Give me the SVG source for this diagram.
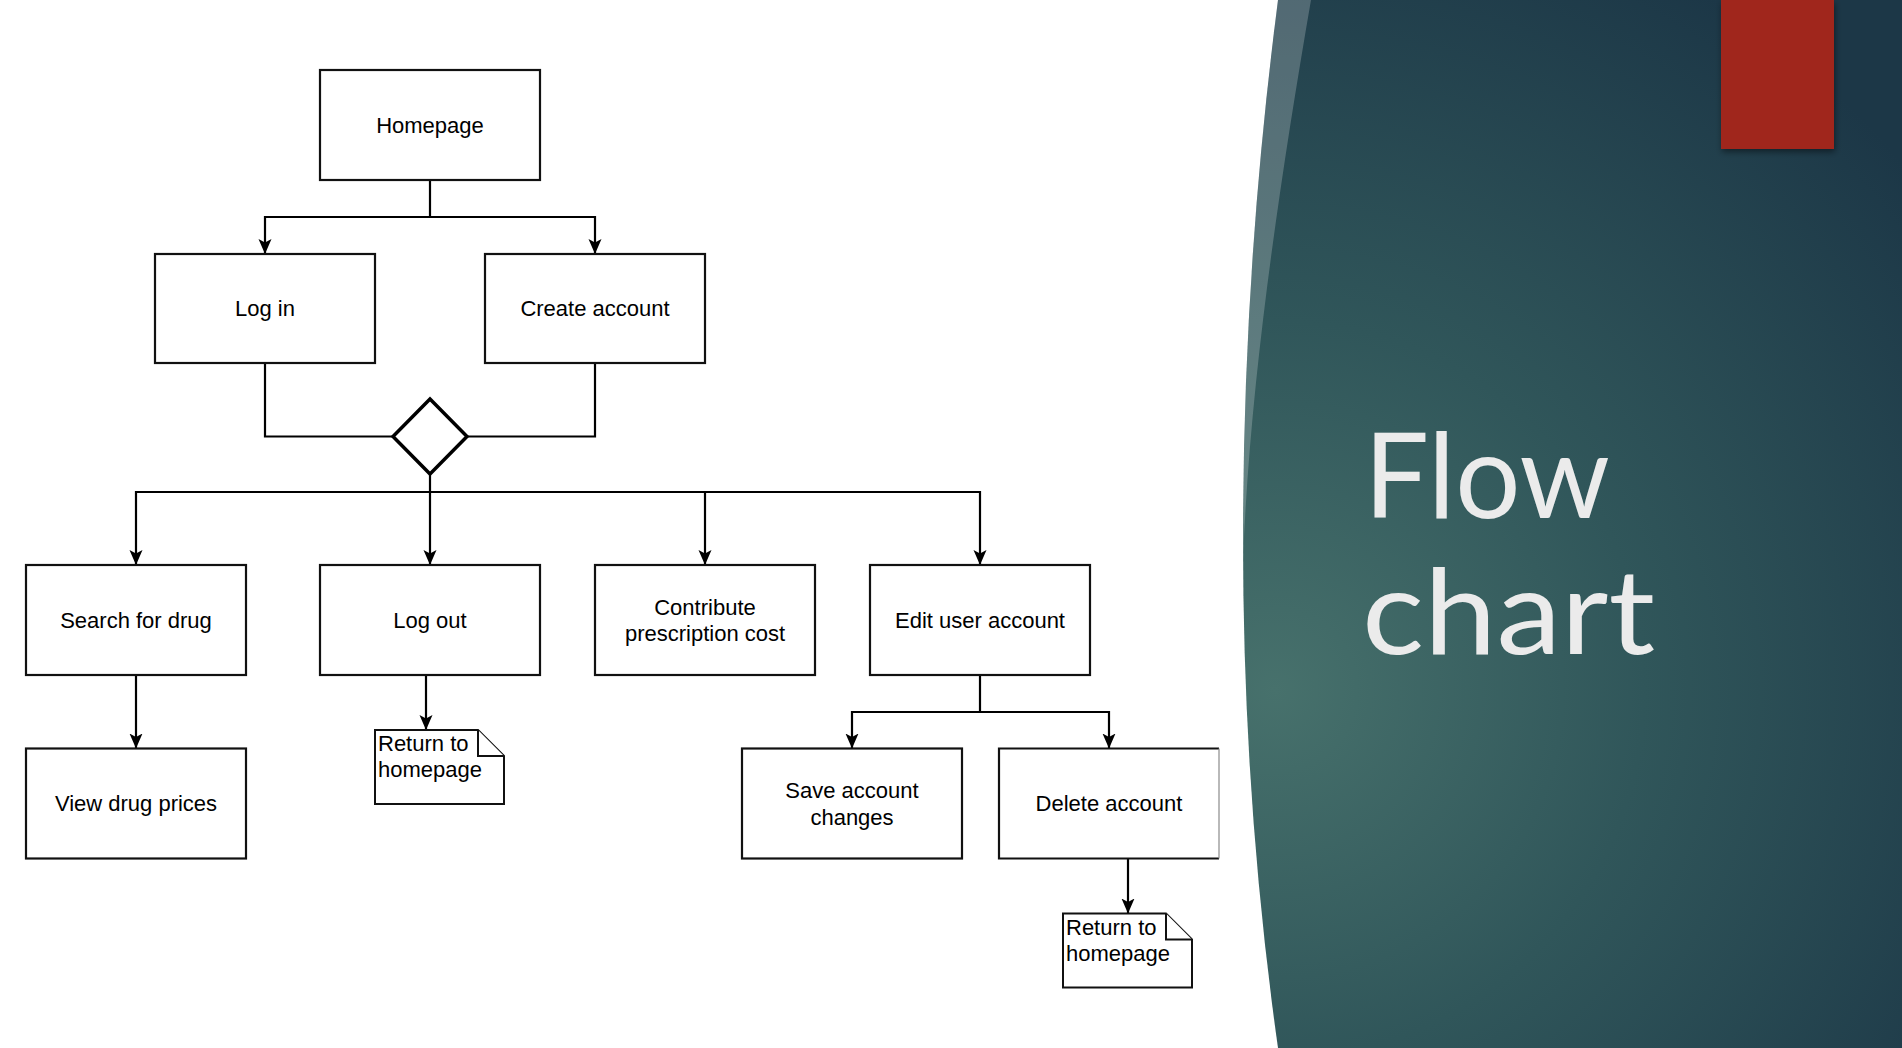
<svg xmlns="http://www.w3.org/2000/svg" width="1902" height="1048" viewBox="0 0 1902 1048">
  <defs>
    <radialGradient id="panelGrad" gradientUnits="userSpaceOnUse" cx="1275" cy="690" r="820">
      <stop offset="0" stop-color="#47716c"/>
      <stop offset="0.45" stop-color="#30565a"/>
      <stop offset="1" stop-color="#1c3747"/>
    </radialGradient>
    <filter id="shadow" x="-20%" y="-20%" width="140%" height="140%">
      <feDropShadow dx="1" dy="3" stdDeviation="3" flood-color="#000" flood-opacity="0.45"/>
    </filter>
    <marker id="arrow" markerUnits="userSpaceOnUse" markerWidth="16" markerHeight="14" refX="15" refY="6.5" orient="auto">
      <path d="M0,0 L15,6.5 L0,13 L3.5,6.5 Z" fill="#000"/>
    </marker>
    <style>
      .box { fill: #fff; stroke: #111; stroke-width: 2.2; }
      .note { fill: #fff; stroke: #111; stroke-width: 2; stroke-linejoin: miter; }
      .lbl { font-family: "Liberation Sans", Arial, sans-serif; font-size: 22px; fill: #000; text-anchor: middle; }
      .nlbl { font-family: "Liberation Sans", Arial, sans-serif; font-size: 22px; fill: #000; }
      .conn { fill: none; stroke: #000; stroke-width: 2.2; }
      .title { font-family: Lato, "Open Sans", sans-serif; font-size: 118px; fill: #ebebeb; }
    </style>
  </defs>

  <rect x="0" y="0" width="1902" height="1048" fill="#ffffff"/>

  <!-- Right panel -->
  <g id="panel">
    <path d="M1278,0 Q1243,270 1243,540 Q1243,800 1278,1048 L1902,1048 L1902,0 Z" fill="url(#panelGrad)"/>
    <path d="M1278,0 L1311,0 C1280,180 1250,380 1243,560 L1243,540 Q1243,270 1278,0 Z" fill="#ffffff" fill-opacity="0.22"/>
    <rect x="1721" y="0" width="113" height="149" fill="#a0281f" filter="url(#shadow)"/>
    <text class="title" x="1364" y="518" textLength="246" lengthAdjust="spacingAndGlyphs">Flow</text>
    <text class="title" x="1362" y="654" textLength="293" lengthAdjust="spacingAndGlyphs">chart</text>
  </g>

  <!-- Connectors -->
  <g id="connectors">
    <path class="conn" d="M430,180 V217 H265 V254" marker-end="url(#arrow)"/>
    <path class="conn" d="M430,217 H595 V254" marker-end="url(#arrow)"/>
    <path class="conn" d="M265,363 V436.5 H393"/>
    <path class="conn" d="M595,363 V436.5 H467"/>
    <path class="conn" d="M430,474 V565" marker-end="url(#arrow)"/>
    <path class="conn" d="M430,492 H136 V565" marker-end="url(#arrow)"/>
    <path class="conn" d="M430,492 H980 V565" marker-end="url(#arrow)"/>
    <path class="conn" d="M705,492 V565" marker-end="url(#arrow)"/>
    <path class="conn" d="M136,675 V748.5" marker-end="url(#arrow)"/>
    <path class="conn" d="M426,675 V730" marker-end="url(#arrow)"/>
    <path class="conn" d="M980,675 V712 H852 V748.5" marker-end="url(#arrow)"/>
    <path class="conn" d="M980,712 H1109 V748.5" marker-end="url(#arrow)"/>
    <path class="conn" d="M1128,858.5 V913.5" marker-end="url(#arrow)"/>
  </g>

  <!-- Nodes -->
  <g id="homepage">
    <rect class="box" x="320" y="70" width="220" height="110"/>
    <text class="lbl" x="430" y="133">Homepage</text>
  </g>
  <g id="login">
    <rect class="box" x="155" y="254" width="220" height="109"/>
    <text class="lbl" x="265" y="316">Log in</text>
  </g>
  <g id="create-account">
    <rect class="box" x="485" y="254" width="220" height="109"/>
    <text class="lbl" x="595" y="316">Create account</text>
  </g>
  <g id="decision">
    <polygon points="430,399 467,436.5 430,474 393,436.5" fill="#fff" stroke="#000" stroke-width="3.5" stroke-linejoin="miter"/>
  </g>
  <g id="search-drug">
    <rect class="box" x="26" y="565" width="220" height="110"/>
    <text class="lbl" x="136" y="628">Search for drug</text>
  </g>
  <g id="logout">
    <rect class="box" x="320" y="565" width="220" height="110"/>
    <text class="lbl" x="430" y="628">Log out</text>
  </g>
  <g id="contribute">
    <rect class="box" x="595" y="565" width="220" height="110"/>
    <text class="lbl" x="705" y="615">Contribute</text>
    <text class="lbl" x="705" y="641">prescription cost</text>
  </g>
  <g id="edit-account">
    <rect class="box" x="870" y="565" width="220" height="110"/>
    <text class="lbl" x="980" y="628">Edit user account</text>
  </g>
  <g id="view-prices">
    <rect class="box" x="26" y="748.5" width="220" height="110"/>
    <text class="lbl" x="136" y="811">View drug prices</text>
  </g>
  <g id="save-changes">
    <rect class="box" x="742" y="748.5" width="220" height="110"/>
    <text class="lbl" x="852" y="798">Save account</text>
    <text class="lbl" x="852" y="825">changes</text>
  </g>
  <g id="delete-account">
    <rect x="999" y="748.5" width="220" height="110" fill="#fff"/>
    <path d="M1219,748.5 H999 V858.5 H1219" fill="none" stroke="#111" stroke-width="2.2"/>
    <path d="M1219,748.5 V858.5" fill="none" stroke="#8a8a8a" stroke-width="1.2"/>
    <text class="lbl" x="1109" y="811">Delete account</text>
  </g>
  <g id="note-logout">
    <path class="note" d="M375,730 H478 L504,756 V804 H375 Z"/>
    <path class="note" d="M478,730 V756 H504" fill="none"/>
    <text class="nlbl" x="378" y="751">Return to</text>
    <text class="nlbl" x="378" y="777">homepage</text>
  </g>
  <g id="note-delete">
    <path class="note" d="M1063,913.5 H1166 L1192,939.5 V987.5 H1063 Z"/>
    <path class="note" d="M1166,913.5 V939.5 H1192" fill="none"/>
    <text class="nlbl" x="1066" y="935">Return to</text>
    <text class="nlbl" x="1066" y="961">homepage</text>
  </g>
</svg>
